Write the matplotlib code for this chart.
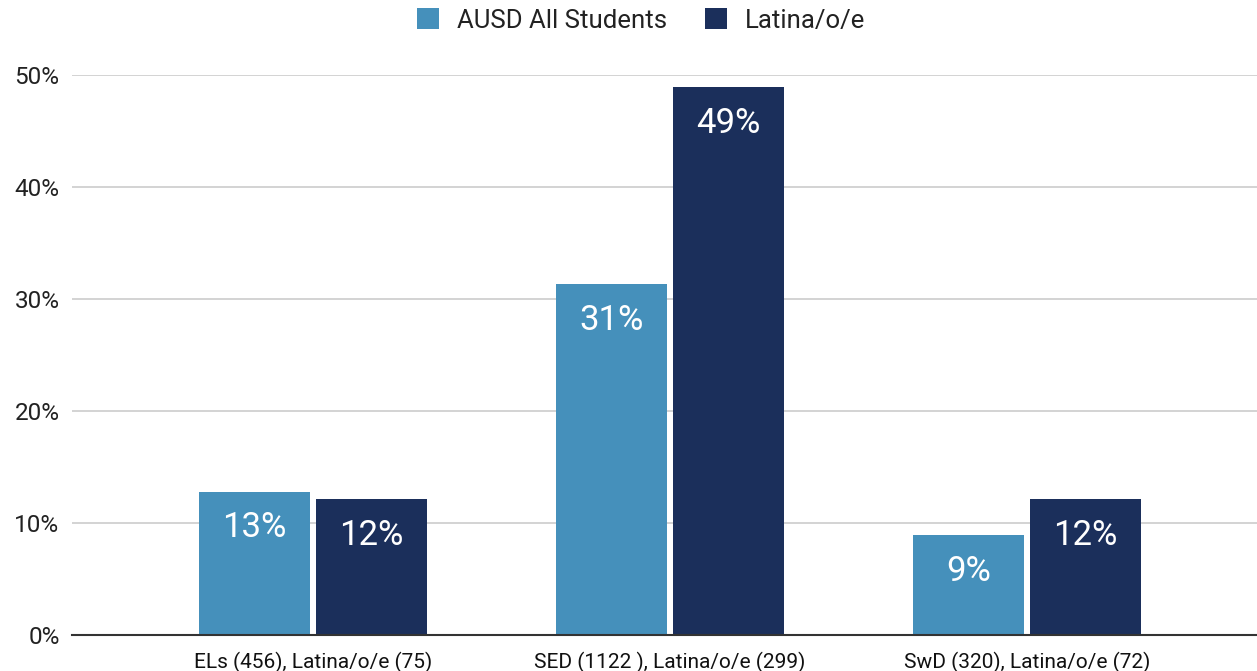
import matplotlib.pyplot as plt
import numpy as np

plt.rcParams['font.family'] = ['Roboto', 'DejaVu Sans']

categorias = ["ELs (456), Latina/o/e (75)", "SED (1122 ), Latina/o/e (299)", "SwD (320), Latina/o/e (72)"]
todos = [12.8, 31.3, 8.9]
latinos = [12.1, 48.9, 12.1]
etiquetas_todos = ["13%", "31%", "9%"]
etiquetas_latinos = ["12%", "49%", "12%"]
series = ["AUSD All Students", "Latina/o/e"]

color1 = "#4590bb"
color2 = "#1b2f5b"

fig = plt.figure(figsize=(12.57, 6.71), dpi=100)
ax = fig.add_axes([72/1257, 1-635/671, 1-72/1257, (635-75)/671])

x = np.arange(len(categorias))
w = 0.311
off = 0.164
b1 = ax.bar(x - off, todos, w, color=color1, label=series[0], zorder=3)
b2 = ax.bar(x + off, latinos, w, color=color2, label=series[1], zorder=3)

for barras, etiquetas in [(b1, etiquetas_todos), (b2, etiquetas_latinos)]:
    for r, t in zip(barras, etiquetas):
        ax.annotate(t, (r.get_x() + r.get_width()/2, r.get_height()),
                    xytext=(0, -14), textcoords='offset points',
                    ha='center', va='top', color='white', fontsize=25, zorder=4)

ax.set_xlim(-0.675, 2.644)
ax.set_ylim(0, 50)
ax.set_yticks([0, 10, 20, 30, 40, 50])
ax.set_yticklabels([f"{v}%" for v in [0, 10, 20, 30, 40, 50]])
ax.set_xticks(x)
ax.set_xticklabels(categorias)
ax.tick_params(axis='y', length=0, pad=9, labelsize=17.5, labelcolor='#222222')
ax.tick_params(axis='x', length=0, pad=12, labelsize=15, labelcolor='#111111')
ax.grid(axis='y', color='#cccccc', linewidth=1.2, zorder=0)
for s in ['top', 'right', 'left']:
    ax.spines[s].set_visible(False)
ax.spines['bottom'].set_color('#333333')
ax.spines['bottom'].set_linewidth(1.5)
ax.spines['bottom'].set_zorder(5)

fig.legend(loc='upper center', bbox_to_anchor=(0.51, 1.022), ncol=2, frameon=False,
           fontsize=18.5, handlelength=0.86, handleheight=0.86, columnspacing=1.45,
           handletextpad=0.7, labelcolor='#222222')

fig.savefig("out.png", dpi=100)
